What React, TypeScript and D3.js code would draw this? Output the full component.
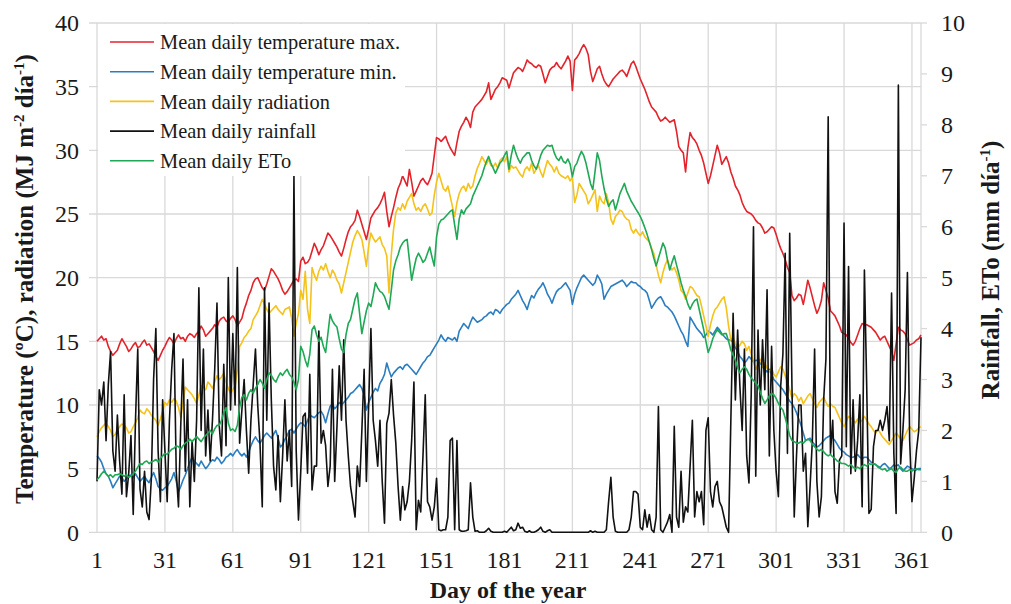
import React from "react";
import * as d3 from "d3";

// ---------- DATA ----------
const dayTicks = [1, 31, 61, 91, 121, 151, 181, 211, 241, 271, 301, 331, 361];
const leftTicks = [0, 5, 10, 15, 20, 25, 30, 35, 40];
const rightTicks = [0, 1, 2, 3, 4, 5, 6, 7, 8, 9, 10];

// Mean daily temperature max (ºC)
const tmax = [
  15.0, 15.2, 15.4, 15.1, 15.2, 14.6, 14.2, 13.9, 14.1, 14.3,
  14.8, 15.2, 14.9, 14.6, 14.2, 14.4, 14.7, 14.9, 14.5, 14.6,
  14.9, 15.1, 14.7, 14.8, 14.5, 14.2, 13.8, 13.5, 13.9, 14.3,
  14.6, 15.0, 15.3, 15.1, 14.8, 15.2, 15.5, 15.2, 15.3, 15.0,
  15.4, 15.6, 15.5, 15.3, 15.6, 15.8, 16.2, 15.9, 15.4, 15.6,
  15.8, 16.0, 16.3, 16.1, 16.6, 16.8, 16.9, 16.6, 16.5, 16.8,
  17.0, 16.7, 16.2, 16.5, 16.8, 17.5, 18.0, 18.6, 19.0, 19.6,
  19.9, 20.0, 19.6, 19.2, 19.0, 19.5, 20.1, 20.7, 20.5, 20.2,
  19.9, 19.5, 19.0, 18.7, 18.9, 19.2, 19.5, 19.8, 19.9, 19.7,
  21.3, 21.6, 21.1, 21.2, 21.5, 22.1, 22.7, 22.3, 21.8, 22.2,
  22.5, 23.0, 23.5, 23.3, 23.0, 22.7, 22.4, 22.0, 21.7, 22.3,
  23.0, 23.6, 24.0, 24.2, 24.5, 25.3, 24.8, 24.2, 23.6, 23.0,
  23.8, 24.7, 25.0, 25.3, 25.5, 25.8, 26.2, 26.7, 25.2, 24.0,
  24.8, 25.5, 26.3, 27.0, 27.4, 28.0, 27.6, 27.2, 28.5, 27.5,
  26.4, 26.8, 27.2, 27.6, 27.8, 27.5, 27.3, 27.7, 28.2, 29.6,
  31.0, 30.9, 30.7, 30.9, 31.1, 30.6, 30.2, 29.9, 29.6, 30.6,
  31.5, 31.9, 32.2, 32.6, 32.3, 31.8, 33.0, 33.4, 33.6, 33.8,
  34.0, 34.3, 34.6, 35.3, 34.0, 34.4, 34.8, 35.0, 35.3, 35.7,
  35.6, 35.5, 34.9, 35.5, 36.1, 36.3, 36.5, 36.4, 36.2, 36.6,
  37.1, 36.9, 36.8, 36.6, 36.5, 36.7, 36.6, 36.0, 35.3, 35.8,
  36.3, 36.5, 36.6, 36.9, 36.6, 36.4, 36.7, 37.0, 37.4, 37.0,
  34.7, 37.1, 37.3, 37.6, 38.0, 38.3, 38.0, 37.5, 36.2, 35.4,
  35.9, 36.4, 36.6, 36.0, 35.5, 35.2, 35.0, 35.3, 35.6, 35.8,
  36.0, 36.2, 36.3, 36.1, 35.8, 36.3, 36.8, 37.0, 36.6, 36.1,
  35.6, 35.2, 34.8, 34.3, 33.8, 33.4, 33.2, 33.0, 32.6, 32.3,
  32.4, 32.6, 32.4, 32.2, 32.3, 32.4, 31.5, 30.3, 30.0, 29.8,
  28.3, 30.2, 31.4, 31.0, 30.8, 30.5, 30.0, 29.6, 29.0, 28.2,
  27.4, 28.0, 28.8, 29.6, 30.4, 29.8, 28.9, 29.2, 29.5, 29.0,
  28.3, 27.8, 27.2, 26.9, 26.5, 25.9, 25.5, 25.2, 25.1, 25.0,
  24.8, 24.5, 24.3, 24.2, 23.9, 23.5, 23.6, 23.8, 24.0, 23.9,
  23.4, 22.8, 22.3, 21.9, 21.4, 20.8, 20.4, 18.6, 18.2, 18.4,
  18.7, 18.6, 17.9, 18.8, 19.8, 19.2, 18.5, 17.8, 17.2, 17.6,
  18.2, 19.6, 19.0, 18.4, 17.4, 17.2, 17.0, 16.6, 16.2, 15.7,
  15.6, 15.5, 15.2, 14.9, 14.7, 15.0, 15.5, 16.0, 16.4, 16.3,
  16.3, 16.2, 16.1, 15.9, 15.7, 15.4, 15.1, 15.3, 15.4, 15.0,
  14.6, 14.2, 13.5, 14.8, 16.1, 15.9, 15.8, 15.6, 15.1, 14.7,
  14.8, 14.9, 15.1, 15.2, 15.5,
];

// Mean daily temperature min (ºC)
const tmin = [
  6.0, 5.8, 5.5, 5.0, 4.6, 4.4, 4.0, 3.5, 3.8, 4.1,
  4.4, 4.3, 4.0, 4.2, 4.4, 4.5, 4.3, 4.6, 4.3, 4.0,
  4.2, 4.4, 4.1, 3.9, 4.3, 4.7, 4.2, 3.6, 3.4, 3.3,
  3.5, 3.6, 3.9, 4.2, 4.7, 4.0, 3.2, 3.6, 4.1, 4.5,
  5.0, 5.5, 5.9, 5.6, 5.4, 5.2, 5.6, 5.3, 5.0, 5.2,
  5.5, 5.7, 5.6, 5.9, 5.7, 5.4, 5.6, 5.9, 6.0, 6.2,
  6.0, 6.3, 6.5, 6.2, 6.0, 6.2, 5.9, 6.3, 6.8, 7.2,
  7.5, 7.2, 7.0, 7.3, 7.6, 7.8, 7.6, 7.4, 7.7, 8.0,
  7.4, 6.7, 6.9, 7.3, 7.6, 8.0, 8.1, 7.8, 8.1, 8.4,
  8.6, 8.5, 8.3, 8.8, 9.2, 9.1, 9.0, 9.2, 9.4, 9.5,
  9.2, 8.6, 9.3, 9.9, 10.1, 9.7, 9.9, 10.2, 10.0, 10.2,
  10.4, 10.6, 10.9, 11.0, 11.2, 11.4, 11.6, 11.3, 10.8, 9.6,
  10.2, 10.6, 11.0, 11.3, 11.1, 11.7, 12.0, 12.4, 13.3, 12.7,
  12.2, 12.5, 12.7, 12.9, 13.0, 12.8, 13.1, 13.2, 13.0, 12.8,
  12.6, 12.4, 12.7, 13.0, 13.3, 13.5, 13.8, 13.9, 14.2, 14.5,
  14.8, 15.1, 15.5, 15.2, 15.0, 15.3, 15.2, 15.1, 15.3, 15.0,
  15.8, 16.1, 16.4, 16.2, 16.0, 16.5, 16.9, 16.7, 16.5, 16.6,
  16.7, 16.9, 17.0, 17.2, 17.3, 17.1, 17.5, 17.4, 17.2, 17.5,
  17.7, 17.9, 18.0, 18.3, 18.5, 18.7, 19.0, 18.6, 18.2, 17.9,
  17.5, 18.1, 18.6, 18.4, 18.8, 19.1, 19.3, 19.6, 19.2, 18.7,
  18.4, 18.0, 18.5, 18.9, 19.1, 19.2, 19.4, 19.6, 19.3, 19.0,
  17.9, 18.7, 19.2, 19.6, 20.0, 20.2, 20.0, 19.8, 19.6, 19.4,
  19.6, 20.2, 19.9, 19.5, 18.3, 18.7, 19.0, 19.3, 19.4, 19.5,
  19.6, 19.7, 19.8, 19.6, 19.3, 19.5, 19.7, 19.6, 19.6, 19.4,
  19.3, 19.1, 19.0, 18.8, 18.2, 17.6, 17.9, 18.2, 18.4, 18.5,
  18.2, 17.8, 17.7, 17.5, 17.3, 17.0, 16.6, 16.2, 15.8, 15.5,
  15.0, 14.6, 16.9, 16.6, 16.3, 16.0, 15.8, 15.6, 15.3, 15.5,
  15.8, 15.7, 15.5, 15.8, 16.1, 15.9, 15.6, 15.4, 15.2, 15.1,
  15.1, 14.9, 14.5, 14.2, 13.8, 13.6, 13.3, 13.5, 13.8, 13.6,
  13.4, 13.5, 13.5, 13.3, 13.0, 12.8, 12.6, 12.8, 12.4, 12.0,
  11.8, 11.6, 11.4, 11.2, 10.9, 10.6, 10.3, 10.1, 9.8, 9.4,
  8.9, 8.4, 7.8, 7.2, 7.3, 7.4, 7.1, 6.9, 6.7, 6.8,
  7.0, 7.2, 7.4, 7.5, 7.6, 7.4, 7.2, 6.9, 6.6, 6.4,
  6.3, 6.1, 6.0, 5.9, 5.9, 6.0, 6.1, 5.9, 5.8, 5.9,
  5.9, 5.7, 5.5, 5.4, 5.3, 5.2, 5.1, 5.3, 5.4, 5.2,
  5.0, 5.1, 5.3, 5.2, 5.3, 5.0, 4.8, 5.0, 5.2, 5.1,
  5.0, 4.9, 4.9, 5.0, 5.0,
];

// Mean daily radiation (MJ m-2 día-1)
const radiation = [
  7.5, 7.9, 8.2, 8.4, 8.6, 8.3, 8.0, 7.5, 7.7, 8.0,
  8.3, 8.5, 8.4, 8.2, 7.8, 7.9, 8.3, 8.6, 9.0, 9.6,
  9.4, 9.3, 9.7, 9.5, 9.2, 9.0, 8.8, 8.4, 8.9, 9.5,
  10.2, 10.0, 10.4, 10.2, 10.5, 10.3, 9.8, 9.0, 10.2, 11.4,
  11.2, 11.0, 10.8, 10.5, 10.1, 10.8, 11.5, 11.4, 11.2, 11.8,
  11.6, 11.3, 11.8, 12.3, 12.0, 12.2, 12.5, 11.8, 11.3, 10.9,
  11.2, 11.5, 12.8, 14.6, 14.9, 15.3, 15.5, 15.8, 16.0, 16.7,
  17.0, 17.3, 17.8, 18.3, 17.9, 17.5, 17.2, 17.4, 17.6, 17.8,
  17.5, 17.3, 17.1, 17.5, 17.6, 17.7, 16.8, 15.4, 16.4, 17.2,
  19.0, 18.3, 20.5, 17.5, 16.4, 20.8, 20.2, 19.8, 20.5, 20.9,
  20.6, 21.1, 20.5, 20.0, 20.6, 20.3, 19.8, 19.5, 18.8, 19.6,
  20.4, 21.2, 22.0, 22.8, 23.3, 23.7, 23.4, 23.0, 22.0, 20.9,
  22.5, 23.5, 23.1, 22.8, 23.0, 23.2, 22.6, 22.3, 21.7, 18.8,
  21.8, 23.8, 25.1, 25.5, 25.3, 25.8, 25.4, 26.0, 26.3, 26.6,
  25.8, 25.3, 25.5, 25.2, 25.6, 25.8, 25.4, 24.9, 25.1, 26.5,
  27.5, 28.2, 27.6, 27.0, 26.8, 27.2, 26.4, 25.6, 24.8, 25.9,
  26.6, 27.0, 27.2, 26.8, 27.4, 27.0, 27.2, 28.0, 28.6, 29.0,
  29.5, 29.2, 28.9, 29.3, 28.8, 28.7, 29.0, 28.6, 29.2, 29.4,
  29.1, 29.5, 28.3, 28.8, 28.6, 28.7, 28.4, 28.1, 27.9, 28.5,
  28.7, 28.4, 29.0, 28.2, 28.5, 28.8, 28.3, 27.9, 28.6, 29.2,
  28.9, 28.7, 28.3, 28.7, 28.2, 28.0, 27.9, 27.8, 28.0, 27.6,
  27.9, 25.9, 26.5, 27.4, 27.1, 26.8, 26.5, 25.8, 26.1, 26.5,
  26.9, 25.2, 26.4, 26.0, 25.8, 26.6, 25.9, 24.6, 24.2, 24.8,
  25.0, 25.3, 25.2, 24.8, 24.6, 24.5, 23.8, 23.5, 23.8, 23.5,
  23.3, 23.6, 23.2, 23.0, 22.8, 22.3, 21.9, 21.0, 20.2, 19.6,
  20.4, 21.0, 21.4, 20.9, 20.6, 20.8, 20.4, 19.8, 19.0, 18.8,
  18.3, 18.8, 19.3, 19.2, 18.9, 18.6, 18.5, 17.8, 17.0, 16.2,
  15.4, 16.3, 17.0, 17.5, 17.7, 18.0, 18.3, 18.5, 17.6, 16.2,
  15.1, 15.3, 14.8, 14.5, 14.7, 15.0, 14.8, 14.3, 14.6, 14.0,
  13.4, 12.8, 13.2, 13.6, 13.0, 13.3, 12.9, 12.6, 12.9, 12.4,
  12.2, 12.6, 13.0, 12.8, 12.3, 11.8, 11.2, 10.5, 10.9, 10.7,
  10.3, 10.6, 10.1, 10.4, 10.7, 10.9, 10.5, 10.1, 9.8, 10.2,
  10.4, 10.6, 10.2, 9.9, 10.1, 9.9, 9.8, 9.4, 9.0, 8.6,
  8.3, 8.7, 9.1, 9.0, 8.8, 8.6, 8.9, 8.6, 8.8, 9.1,
  8.8, 8.5, 8.3, 8.0, 7.8, 8.1, 7.8, 7.5, 7.3, 7.1,
  6.9, 7.2, 7.5, 7.8, 7.6, 7.3, 7.2, 7.6, 8.0, 8.3,
  8.1, 7.9, 8.0, 8.2, 8.3,
];

// Mean daily rainfall (mm día-1)
const rainfall = [
  1.0, 2.8, 2.5, 2.95, 1.8, 2.9, 3.55, 1.6, 1.2, 2.3,
  1.4, 0.75, 2.7, 0.7, 1.15, 1.9, 0.35, 2.2, 3.6, 0.85,
  0.5, 1.2, 0.4, 0.25, 1.05, 3.0, 4.0, 1.6, 0.6, 2.6,
  1.6, 0.6, 2.2, 3.2, 3.9, 1.2, 0.5, 2.1, 3.4, 1.2,
  2.6, 0.5, 1.8, 1.0, 2.2, 4.8, 2.0, 3.6, 1.5, 2.4,
  1.4, 2.2, 3.2, 4.5, 2.1, 1.5, 3.3, 1.7, 5.0, 2.4,
  3.9, 2.5, 5.2, 1.75, 2.4, 3.0, 2.0, 1.16, 2.2, 2.9,
  3.6, 2.5, 1.75, 0.5, 4.8, 2.2, 4.5, 2.6, 1.3, 0.83,
  1.9, 0.6, 1.5, 2.6, 1.4, 2.0, 0.9, 7.0, 1.6, 0.24,
  1.2, 2.27, 2.34, 1.16, 3.1, 0.83, 1.3, 1.3, 3.95, 1.75,
  2.0, 1.7, 0.9, 1.3, 3.2, 1.0, 2.07, 3.27, 2.2, 3.78,
  2.2, 1.5, 0.9, 0.6, 0.3, 1.3, 0.9, 2.0, 3.2, 1.0,
  2.5, 4.0, 2.2, 1.8, 1.3, 2.2, 1.0, 0.18, 2.14, 2.34,
  3.0, 2.3, 1.75, 0.9, 0.24, 0.9, 0.44, 0.6, 1.0, 1.8,
  2.95, 0.05, 0.63, 0.4, 1.5, 2.7, 0.6, 0.5, 0.24, 0.5,
  1.06, 0.05, 0.03, 0.05, 0.05, 0.3, 1.8, 1.85, 0.05, 1.8,
  0.05, 0.02, 0.02, 0.03, 0.05, 0.97, 0.3, 0.02, 0.03, 0,
  0, 0, 0.03, 0.08, 0.02, 0, 0, 0, 0, 0,
  0.02, 0, 0.05, 0.1, 0.03, 0.05, 0.18, 0.08, 0.1, 0.02,
  0, 0.03, 0, 0, 0.02, 0.05, 0.1, 0.02, 0, 0.03,
  0.05, 0, 0, 0, 0, 0, 0, 0, 0, 0,
  0, 0, 0, 0, 0, 0, 0, 0, 0.03, 0,
  0.02, 0, 0, 0, 0, 0.05, 0.6, 1.08, 0.3, 0.02,
  0, 0, 0, 0, 0, 0.05, 0.3, 0.8, 0.8, 0.75,
  0.1, 0.05, 0.44, 0.1, 0.35, 0.05, 0, 0.3, 2.47, 0.05,
  0, 0.1, 0.2, 0.35, 0, 2.08, 0.3, 0.1, 1.2, 0.2,
  0.5, 0.4, 1.3, 2.2, 0.3, 0.8, 0.6, 0.8, 0.15, 2.0,
  2.25, 0.8, 0.5, 0.9, 1.0, 0.6, 0.5, 0.3, 0.1, 0,
  2.2, 4.3, 2.6, 3.97, 2.86, 2.0, 3.6, 1.5, 0.97, 2.7,
  6.0, 1.1, 3.97, 2.5, 3.78, 2.8, 4.76, 1.5, 3.65, 2.0,
  1.2, 0.7, 2.86, 3.5, 5.48, 1.55, 5.87, 2.86, 0.3, 1.5,
  2.5, 2.5, 1.2, 1.55, 0.11, 0.9, 1.8, 3.6, 1.0, 0.3,
  0.7, 2.6, 3.4, 8.16, 1.55, 2.2, 0.8, 0.57, 1.42, 1.5,
  6.07, 1.68, 5.22, 1.15, 2.6, 1.2, 1.8, 2.7, 0.5, 5.15,
  2.9, 0.37, 0.45, 1.68, 2.0, 2.0, 2.2, 2.0, 2.2, 2.47,
  1.8, 4.7, 1.55, 0.37, 8.78, 1.34, 2.0, 2.8, 5.1, 1.8,
  0.6, 1.06, 1.6, 2.0, 3.83,
];

// Mean daily ETo (mm día-1)
const eto = [
  1.03, 1.08, 1.15, 1.2, 1.15, 1.1, 1.13, 1.08, 1.13, 1.13,
  1.15, 1.13, 1.1, 1.13, 1.08, 1.1, 1.15, 1.2, 1.28, 1.35,
  1.33, 1.38, 1.4, 1.35, 1.38, 1.4, 1.43, 1.38, 1.45, 1.5,
  1.55, 1.53, 1.58, 1.63, 1.65, 1.7, 1.68, 1.63, 1.7, 1.75,
  1.78, 1.83, 1.78, 1.83, 1.88, 1.83, 1.78, 1.85, 1.9, 1.95,
  2.0, 1.93, 2.03, 2.1, 2.1, 2.2, 2.35, 2.45, 2.15, 2.0,
  2.03, 1.98, 2.1, 2.45, 2.65, 2.7, 2.6, 2.73, 2.8, 2.73,
  2.83, 2.9, 3.0, 2.93, 2.83, 3.0, 3.13, 3.08, 3.0, 2.95,
  3.05, 3.13, 3.08, 3.15, 3.2, 3.1, 3.05, 2.95, 2.8, 3.0,
  3.65, 3.55, 3.38, 3.25, 3.5, 3.98, 4.05, 3.88, 3.75, 3.83,
  3.65, 3.53, 3.9, 4.28, 4.15, 4.08, 4.03, 3.8, 3.6, 3.53,
  3.88, 4.1, 4.18, 4.38, 4.58, 4.7, 4.3, 3.9, 4.13, 4.35,
  4.5, 4.43, 4.65, 4.9, 4.8, 4.73, 4.7, 4.63, 4.5, 4.38,
  4.75, 5.15, 5.33, 5.45, 5.6, 5.68, 5.73, 5.75, 5.35, 4.95,
  5.18, 5.38, 5.48, 5.4, 5.3, 5.35, 5.48, 5.6, 5.4, 5.23,
  5.8, 6.05, 6.13, 6.15, 6.2, 6.25, 6.3, 6.33, 6.03, 5.75,
  6.15, 6.33, 6.25, 6.35, 6.4, 6.45, 6.6, 6.7, 6.8, 6.9,
  7.0, 7.15, 7.28, 7.38, 7.25, 7.15, 7.05, 7.15, 7.25, 7.3,
  7.4, 7.48, 7.13, 7.4, 7.6, 7.45, 7.33, 7.25, 7.35, 7.4,
  7.45, 7.45, 7.3, 7.2, 7.13, 7.25, 7.4, 7.5, 7.55, 7.6,
  7.58, 7.6, 7.45, 7.35, 7.3, 7.38, 7.28, 7.25, 7.33, 7.23,
  6.98, 7.18, 7.25, 7.38, 7.48, 7.4, 7.25, 7.05, 6.85, 6.73,
  7.08, 7.45, 7.3, 7.0, 6.75, 6.55, 6.4, 6.48, 6.53, 6.33,
  6.48, 6.65, 6.75, 6.85, 6.7, 6.6, 6.5, 6.43, 6.35, 6.28,
  6.2, 6.1, 5.98, 5.85, 5.7, 5.55, 5.38, 5.23, 5.38, 5.53,
  5.68, 5.58, 5.35, 5.15, 5.3, 5.43, 5.25, 5.08, 4.9, 4.75,
  4.63, 4.48, 4.38, 4.48, 4.55, 4.58, 4.38, 4.18, 3.98, 3.75,
  3.53, 3.65, 3.8, 3.9, 3.98, 3.93, 3.88, 3.9, 3.9, 3.75,
  3.58, 3.48, 3.38, 3.23, 3.13, 3.2, 3.25, 3.2, 3.1, 3.03,
  2.98, 2.93, 2.88, 2.75, 2.63, 2.53, 2.6, 2.68, 2.73, 2.7,
  2.63, 2.53, 2.45, 2.4, 2.25, 2.08, 1.9, 1.8, 1.78, 1.75,
  1.75, 1.78, 1.75, 1.8, 1.83, 1.8, 1.73, 1.68, 1.63, 1.6,
  1.63, 1.58, 1.53, 1.5, 1.53, 1.48, 1.45, 1.4, 1.38, 1.35,
  1.35, 1.33, 1.3, 1.33, 1.28, 1.25, 1.28, 1.25, 1.3, 1.33,
  1.3, 1.35, 1.33, 1.35, 1.33, 1.28, 1.25, 1.23, 1.25, 1.2,
  1.23, 1.25, 1.2, 1.18, 1.25, 1.28, 1.23, 1.2, 1.2, 1.23,
  1.2, 1.23, 1.25, 1.23, 1.23,
];

const legendLabels = [
  "Mean daily temperature max.",
  "Mean daily temperature min.",
  "Mean daily radiation",
  "Mean daily rainfall",
  "Mean daily ETo",
];
const seriesColors = ["#E3232B", "#2B7DC0", "#F5C21A", "#111111", "#1FA855"];

// ---------- LAYOUT ----------
const W = 1011;
const H = 604;
const X0 = 97;
const X1 = 921;
const YT = 23;
const YB = 532.3;
const FONT = "'Liberation Serif', 'Times New Roman', Times, serif";
const GRID = "#d9d9d9";
const TXT = "#1a1a1a";

export default function App() {
  const x = d3.scaleLinear().domain([1, 365]).range([X0, X1]);
  const yL = d3.scaleLinear().domain([0, 40]).range([YB, YT]);
  const yR = d3.scaleLinear().domain([0, 10]).range([YB, YT]);

  const lineL = d3
    .line<number>()
    .x((_, i) => x(i + 1))
    .y((v) => yL(v));
  const lineR = d3
    .line<number>()
    .x((_, i) => x(i + 1))
    .y((v) => yR(v));

  const series = [
    { d: lineL(tmax), c: seriesColors[0] },
    { d: lineL(tmin), c: seriesColors[1] },
    { d: lineL(radiation), c: seriesColors[2] },
    { d: lineR(rainfall), c: seriesColors[3] },
    { d: lineR(eto), c: seriesColors[4] },
  ];

  return (
    <div style={{ position: "absolute", left: 0, top: 0 }}>
      <svg width={W} height={H} style={{ display: "block", background: "#fff", fontFamily: FONT }}>
        <rect width={W} height={H} fill="#fff" />
        {leftTicks.map((t) => (
          <line key={"h" + t} x1={89} x2={X1} y1={yL(t)} y2={yL(t)} stroke={GRID} strokeWidth={1.3} />
        ))}
        {dayTicks.slice(1).map((t) => (
          <line key={"v" + t} x1={x(t)} x2={x(t)} y1={YT} y2={YB} stroke={GRID} strokeWidth={1.3} />
        ))}
        <line x1={X0} x2={X0} y1={YT} y2={YB} stroke={GRID} strokeWidth={1.3} />
        <line x1={X1} x2={X1} y1={YT} y2={YB} stroke={GRID} strokeWidth={1.3} />
        {rightTicks.map((t) => (
          <line key={"rt" + t} x1={X1} x2={927} y1={yR(t)} y2={yR(t)} stroke={GRID} strokeWidth={1.3} />
        ))}

        {series.map((s, i) => (
          <path key={i} d={s.d || ""} fill="none" stroke={s.c} strokeWidth={1.6} strokeLinejoin="round" />
        ))}

        <rect x={98} y={24} width={307} height={152} fill="#fff" />
        {legendLabels.map((lab, i) => {
          const yy = 42 + i * 29.7;
          return (
            <g key={lab}>
              <line x1={110} x2={154} y1={yy} y2={yy} stroke={seriesColors[i]} strokeWidth={1.6} />
              <text x={160} y={yy} dy="0.35em" fontSize={20.4} fill={TXT} fontFamily={FONT}>
                {lab}
              </text>
            </g>
          );
        })}

        {leftTicks.map((t) => (
          <text key={"lt" + t} x={79} y={yL(t)} dy="0.35em" textAnchor="end" fontSize={24} fill={TXT} fontFamily={FONT}>
            {t}
          </text>
        ))}
        {rightTicks.map((t) => (
          <text key={"rl" + t} x={941} y={yR(t)} dy="0.35em" textAnchor="start" fontSize={24} fill={TXT} fontFamily={FONT}>
            {t}
          </text>
        ))}
        {dayTicks.map((t) => (
          <text key={"xt" + t} x={x(t)} y={568} textAnchor="middle" fontSize={24} fill={TXT} fontFamily={FONT}>
            {t}
          </text>
        ))}

        <text x={508} y={598} textAnchor="middle" fontSize={24} fontWeight="bold" fill={TXT} fontFamily={FONT}>
          Day of the year
        </text>
        <text
          transform="translate(33,279) rotate(-90)"
          textAnchor="middle"
          fontSize={25}
          fontWeight="bold"
          fill={TXT}
          fontFamily={FONT}
        >
          Temperature (ºC), radiation (MJ m<tspan dy={-9} fontSize={15}>-2</tspan>
          <tspan dy={9}> día</tspan>
          <tspan dy={-9} fontSize={15}>-1</tspan>
          <tspan dy={9}>)</tspan>
        </text>
        <text
          transform="translate(999,270) rotate(-90)"
          textAnchor="middle"
          fontSize={25}
          fontWeight="bold"
          fill={TXT}
          fontFamily={FONT}
        >
          Rainfall, ETo (mm día<tspan dy={-9} fontSize={15}>-1</tspan>
          <tspan dy={9}>)</tspan>
        </text>
      </svg>
    </div>
  );
}
